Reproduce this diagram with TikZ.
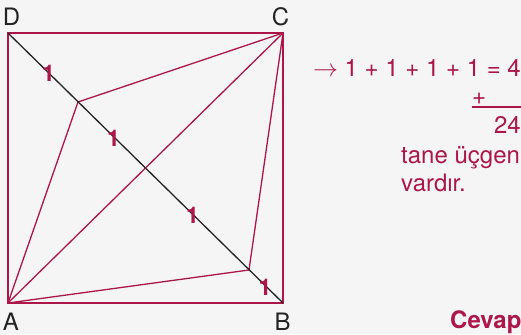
\documentclass[tikz,border=0pt]{standalone}
\usepackage{fontspec}
\setmainfont{TeX Gyre Heros}
\definecolor{qred}{RGB}{172,22,72}
\definecolor{qgray}{RGB}{35,35,35}
\usetikzlibrary{positioning}

\begin{document}
\begin{tikzpicture}[
  x=1pt,y=-1pt,
  every node/.style={font=\fontsize{24}{28}\selectfont,inner sep=0pt},
  edge/.style={draw=qred,line width=1.3pt},
  diag/.style={draw=qgray,line width=1.3pt},
  tick/.style={text=qred,font=\fontsize{23}{27}\selectfont\bfseries},
  corner/.style={text=qgray},
  note/.style={text=qred,anchor=base west}
]
\fill[black!4] (0,0) rectangle (521,334);
\useasboundingbox (0,0) rectangle (521,334);

\coordinate (A) at (8,303);
\coordinate (B) at (283,303);
\coordinate (C) at (283,33);
\coordinate (D) at (8,33);
\coordinate (P) at (78,102);
\coordinate (Q) at (249,270);

\draw[edge] (A) -- (B) -- (C) -- (D) -- cycle;
\draw[edge] (A) -- (P) -- (C);
\draw[edge] (A) -- (Q) -- (C);
\draw[edge] (A) -- (C);
\draw[diag] (D) -- (B);

\node[corner] (lD) at (11.5,16.7) {D};
\node[corner] (lC) at (280.5,16.7) {C};
\node[corner] (lA) at (11,321.7) {A};
\node[corner] (lB) at (282.5,321.7) {B};

\node[tick] (t1) at (48.5,73) {1};
\node[tick] (t2) at (113.5,138) {1};
\node[tick] (t3) at (192.5,215) {1};
\node[tick] (t4) at (265,287) {1};

\node[note,anchor=base east] (sum) at (521,77) {$\rightarrow$ 1 + 1 + 1 + 1 = 4};
\node[note,anchor=center] (plus) at (479,99) {+};
\coordinate (u1) at (472,107);
\coordinate (u2) at (521,107);
\draw[draw=qred,line width=1.3pt] (u1) -- (u2);
\node[note,anchor=base east] (total) at (521,133) {24};
\node[note] (line1) at (401,163) {tane üçgen};
\node[note] (line2) at (401,191) {vardır.};
\node[note,font=\fontsize{24}{28}\selectfont\bfseries] (ans) at (450,328) {Cevap};
\end{tikzpicture}
\end{document}
